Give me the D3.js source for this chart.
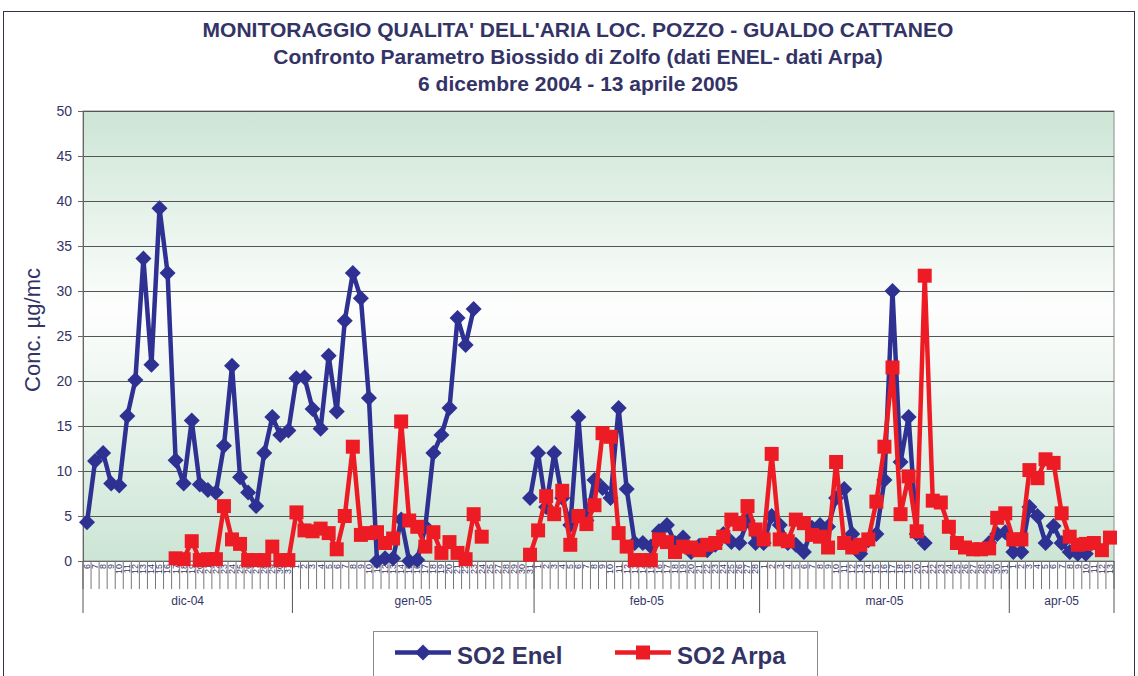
<!DOCTYPE html>
<html>
<head>
<meta charset="utf-8">
<script src="https://cdn.jsdelivr.net/npm/d3@7"></script>
<style>
  body { margin: 0; background: #fff; }
  svg text { font-family: "Liberation Sans", Arial, sans-serif; }
</style>
</head>
<body>
<div id="chart"></div>
<script>
// categories: day numbers grouped by month
var months = ["dic-04", "gen-05", "feb-05", "mar-05", "apr-05"];
var dicDays = [6,7,8,9,10,11,12,13,14,15,16,17,18,19,20,21,22,23,24,25,26,27,28,29,30,31];
var genDays = [1,2,3,4,5,6,7,8,9,10,11,12,13,14,15,16,17,18,19,20,21,22,23,24,25,27,28,29,30,31];
var febDays = [1,2,3,4,5,6,7,8,9,10,11,12,13,14,15,16,17,18,19,20,21,22,23,24,25,26,27,28];
var marDays = [1,2,3,4,5,6,7,8,9,10,11,12,13,14,15,16,17,18,19,20,21,22,23,24,25,26,27,28,29,30,31];
var aprDays = [1,2,3,4,5,6,7,8,9,10,11,12,13];

// SO2 Enel (µg/mc), null = missing
var enel = [
  4.3, 11.1, 12.0, 8.6, 8.4, 16.1, 20.1, 33.6, 21.8, 39.2, 32.0, 11.2, 8.6, 15.6, 8.5, 7.9, 7.6, 12.8, 21.7, 9.3,
  7.6, 6.1, 12.0, 16.0, 14.0, 14.5,
  20.3, 20.4, 16.9, 14.7, 22.8, 16.6, 26.7, 32.0, 29.2, 18.1, 0.0, 0.3, 0.3, 4.6, 0.0, 0.1, 3.8, 12.0, 14.0, 17.0,
  27.0, 24.0, 28.0, null, null, null, null, null, null, 7.0,
  12.0, 6.0, 12.0, 7.0, 4.0, 16.0, 4.5, 9.0, 8.1, 7.0, 17.0, 8.0, 2.0, 2.0, 1.6, 3.3, 4.0, 2.0, 2.6, 1.0,
  1.7, 1.2, 1.8, 3.0, 2.1, 2.0, 4.5, 2.0,
  2.0, 5.0, 4.0, 2.0, 1.8, 1.0, 3.7, 4.0, 3.8, 7.0, 8.0, 3.0, 0.8, 2.3, 3.0, 9.0, 30.0, 11.0, 16.0, 3.0,
  2.0, null, null, null, null, null, null, null, 2.0, 3.0, 3.2,
  1.0, 1.0, 6.0, 5.0, 2.0, 3.9, 2.0, 1.0, 0.8, 0.8, null, null, null
];

// SO2 Arpa (µg/mc)
var arpa = [
  null, null, null, null, null, null, null, null, null, null, null, 0.3, 0.2, 2.2, 0.1, 0.2, 0.2, 6.1, 2.4, 1.9,
  0.1, 0.1, 0.1, 1.6, 0.1, 0.1,
  5.4, 3.4, 3.3, 3.6, 3.1, 1.3, 5.0, 12.7, 2.9, 3.1, 3.2, 2.0, 2.5, 15.5, 4.5, 3.8, 1.6, 3.2, 0.9, 2.1,
  0.9, 0.2, 5.2, 2.7, null, null, null, null, null, 0.7,
  3.4, 7.2, 5.2, 7.8, 1.8, 5.0, 4.1, 6.2, 14.2, 13.8, 3.1, 1.6, 0.1, 0.1, 0.1, 2.4, 2.1, 1.0, 1.6, 1.5,
  1.2, 1.8, 2.0, 2.7, 4.6, 4.1, 6.1, 3.5,
  2.4, 11.9, 2.4, 2.2, 4.6, 4.2, 2.9, 2.7, 1.5, 11.0, 2.0, 1.5, 1.8, 2.4, 6.6, 12.7, 21.5, 5.2, 9.4, 3.3,
  31.7, 6.7, 6.5, 3.8, 2.0, 1.5, 1.3, 1.3, 1.4, 4.8, 5.3,
  2.4, 2.4, 10.1, 9.2, 11.3, 10.9, 5.3, 2.7, 1.8, 1.9, 2.0, 1.2, 2.6
];

var yTicks = [0, 5, 10, 15, 20, 25, 30, 35, 40, 45, 50];

var monthDays = [dicDays, genDays, febDays, marDays, aprDays];
var dayLabels = [].concat.apply([], monthDays);

var W = 1138, H = 676;
var plot = {left: 83, right: 1114, top: 111, bottom: 561};
var textColor = "#333366";

var svg = d3.select("#chart").append("svg")
    .attr("width", W)
    .attr("height", H);

// background gradient of the plot area
var grad = svg.append("defs").append("linearGradient")
    .attr("id", "bg")
    .attr("x1", 0).attr("y1", 0).attr("x2", 0).attr("y2", 1);
grad.append("stop").attr("offset", "0%").attr("stop-color", "#cce5d5");
grad.append("stop").attr("offset", "44%").attr("stop-color", "#fdfefd");
grad.append("stop").attr("offset", "100%").attr("stop-color", "#cce5d5");

// outer chart border
svg.append("rect")
    .attr("x", 3.5).attr("y", 11.5)
    .attr("width", 1131).attr("height", 700)
    .attr("fill", "none")
    .attr("stroke", "#333344")
    .attr("stroke-width", 1);

// scales
var x = d3.scaleBand()
    .domain(d3.range(dayLabels.length))
    .range([plot.left, plot.right]);
var y = d3.scaleLinear()
    .domain([0, 50])
    .range([plot.bottom, plot.top]);

svg.append("rect")
    .attr("x", plot.left).attr("y", plot.top)
    .attr("width", plot.right - plot.left)
    .attr("height", plot.bottom - plot.top)
    .attr("fill", "url(#bg)")
    .attr("stroke", "#8c8c8c");

// gridlines
svg.append("g")
    .attr("transform", `translate(${plot.left},0)`)
    .call(d3.axisLeft(y).tickValues(yTicks).tickSize(-(plot.right - plot.left)).tickFormat(""))
    .call(g => g.select(".domain").remove())
    .call(g => g.selectAll("line").attr("stroke", "#555555").attr("stroke-width", 1));

// y axis
svg.append("g")
    .attr("transform", `translate(${plot.left},0)`)
    .call(d3.axisLeft(y).tickValues(yTicks).tickSize(5).tickPadding(6))
    .call(g => g.select(".domain").attr("stroke", "#666666"))
    .call(g => g.selectAll("line").attr("stroke", "#666666"))
    .call(g => g.selectAll("text")
        .attr("fill", textColor)
        .style("font-size", "14px"));

// y axis title
svg.append("text")
    .attr("transform", `translate(40, 330) rotate(-90)`)
    .attr("text-anchor", "middle")
    .attr("fill", textColor)
    .style("font-size", "22px")
    .text("Conc.  µg/mc");

// x axis: day labels
var xAxis = svg.append("g")
    .attr("transform", `translate(0,${plot.bottom})`)
    .call(d3.axisBottom(x).tickSize(0).tickFormat(i => dayLabels[i]));
xAxis.select(".domain").attr("stroke", "#666666");
xAxis.selectAll("text")
    .attr("transform", "rotate(-90)")
    .attr("x", -3)
    .attr("y", 0)
    .attr("dy", "0.32em")
    .attr("text-anchor", "end")
    .attr("fill", textColor)
    .style("font-size", "9px");

// day tick marks on category boundaries
svg.append("g").selectAll("line")
    .data(d3.range(dayLabels.length + 1))
    .enter().append("line")
    .attr("x1", i => i < dayLabels.length ? x(i) : plot.right)
    .attr("x2", i => i < dayLabels.length ? x(i) : plot.right)
    .attr("y1", plot.bottom)
    .attr("y2", plot.bottom + 28)
    .attr("stroke", "#777777")
    .attr("stroke-width", 1);

// month groups
var start = 0;
var monthRanges = months.map((m, k) => {
    var r = {label: m, from: start, to: start + monthDays[k].length};
    start = r.to;
    return r;
});

svg.append("g").selectAll("line")
    .data(monthRanges.map(r => r.from).concat([dayLabels.length]))
    .enter().append("line")
    .attr("x1", i => i < dayLabels.length ? x(i) : plot.right)
    .attr("x2", i => i < dayLabels.length ? x(i) : plot.right)
    .attr("y1", plot.bottom)
    .attr("y2", plot.bottom + 52)
    .attr("stroke", "#555555")
    .attr("stroke-width", 1);

svg.append("g").selectAll("text")
    .data(monthRanges)
    .enter().append("text")
    .attr("x", r => (x(r.from) + (r.to < dayLabels.length ? x(r.to) : plot.right)) / 2)
    .attr("y", 605)
    .attr("text-anchor", "middle")
    .attr("fill", textColor)
    .style("font-size", "12px")
    .text(r => r.label);

// series
var cx = i => x(i) + x.bandwidth() / 2;
var line = d3.line()
    .defined(d => d != null)
    .x((d, i) => cx(i))
    .y(d => y(d));

var diamond = "M0,-8L8,0L0,8L-8,0Z";
var square = "M-7,-7H7V7H-7Z";

var series = [
    {name: "SO2 Enel", values: enel, color: "#2e3192", marker: diamond},
    {name: "SO2 Arpa", values: arpa, color: "#ed1c24", marker: square}
];

series.forEach(s => {
    var g = svg.append("g");
    g.append("path")
        .attr("d", line(s.values))
        .attr("fill", "none")
        .attr("stroke", s.color)
        .attr("stroke-width", 4.5)
        .attr("stroke-linejoin", "round");
    g.selectAll("path.mk")
        .data(s.values.map((v, i) => ({v: v, i: i})).filter(d => d.v != null))
        .enter().append("path")
        .attr("class", "mk")
        .attr("d", s.marker)
        .attr("transform", d => `translate(${cx(d.i)},${y(d.v)})`)
        .attr("fill", s.color);
});

// titles
var titles = [
    "MONITORAGGIO QUALITA' DELL'ARIA LOC. POZZO - GUALDO CATTANEO",
    "Confronto Parametro Biossido di Zolfo (dati ENEL- dati Arpa)",
    "6 dicembre 2004 - 13 aprile 2005"
];
svg.append("g").selectAll("text")
    .data(titles)
    .enter().append("text")
    .attr("x", 578)
    .attr("y", (d, i) => 37 + i * 27)
    .attr("text-anchor", "middle")
    .attr("fill", textColor)
    .style("font-size", "21px")
    .style("font-weight", "bold")
    .text(d => d);

// legend
var legend = svg.append("g");
legend.append("rect")
    .attr("x", 373.5).attr("y", 631.5)
    .attr("width", 444).attr("height", 60)
    .attr("fill", "#fff")
    .attr("stroke", "#8c8c8c");

var legendX = [395, 615];
series.forEach((s, k) => {
    var lx = legendX[k];
    legend.append("line")
        .attr("x1", lx).attr("x2", lx + 56)
        .attr("y1", 652.5).attr("y2", 652.5)
        .attr("stroke", s.color)
        .attr("stroke-width", 4.5);
    legend.append("path")
        .attr("d", s.marker)
        .attr("transform", `translate(${lx + 28},652.5)`)
        .attr("fill", s.color);
    legend.append("text")
        .attr("x", lx + 62)
        .attr("y", 664)
        .attr("fill", textColor)
        .style("font-size", "24px")
        .style("font-weight", "bold")
        .text(s.name);
});
</script>
</body>
</html>
